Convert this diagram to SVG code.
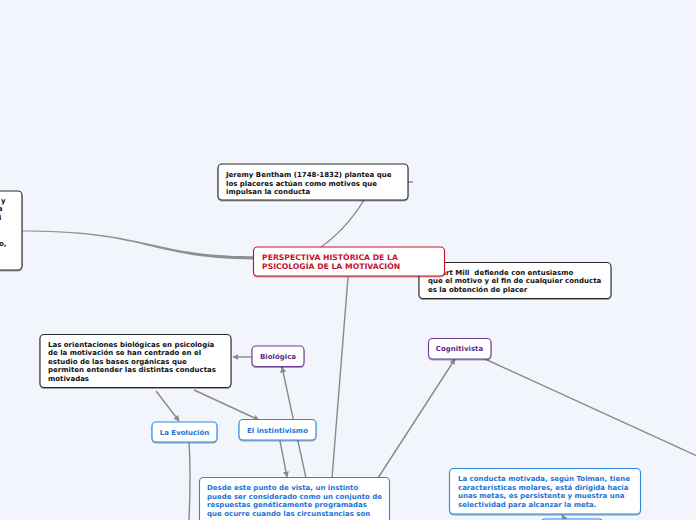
<svg xmlns="http://www.w3.org/2000/svg" width="696" height="520" viewBox="0 0 696 520">
<defs>
<filter id="sh" x="-10%" y="-20%" width="120%" height="150%">
<feDropShadow dx="0" dy="1" stdDeviation="0.7" flood-color="#000" flood-opacity="0.35"/>
</filter>
<marker id="ar" viewBox="0 0 10 10" refX="9" refY="5" markerWidth="6" markerHeight="6" markerUnits="userSpaceOnUse" orient="auto">
<path d="M0,0 L10,5 L0,10 Z" fill="#8a8a8a"/>
</marker>
<style>
.bg{fill:#f3f5fd}
.t{font-family:"DejaVu Sans",Verdana,sans-serif;font-weight:bold;font-size:7px}
.tt{font-size:7.7px}
.k{fill:#111}
.red{fill:#c8102e}
.pur{fill:#5e2d83}
.blu{fill:#1b74d8}
.bk{fill:#fff;stroke:#2a2a2a;stroke-width:1.1;filter:url(#sh)}
.br{fill:#fff;stroke:#c8102e;stroke-width:1.1;filter:url(#sh)}
.bp{fill:#fff;stroke:#6b3a92;stroke-width:1.1;filter:url(#sh)}
.bb{fill:#fff;stroke:#2f86e0;stroke-width:1.1;filter:url(#sh)}
.ln{fill:none;stroke:#8a8a8a;stroke-width:1.4}
.la{fill:none;stroke:#8a8a8a;stroke-width:1.4;marker-end:url(#ar)}
</style>
</defs>
<rect class="bg" x="0" y="0" width="696" height="520"/>

<g id="connectors">
<path d="M22,230.4 C150,230.4 150,256.3 258,256.3 L258,259.5 C150,259.5 150,231.6 22,231.6 Z" fill="#8f8f8f"/>
<path class="ln" d="M318,249 C336,237 350,223 364,200"/>
<path class="ln" d="M408,182 L413,182"/>
<path class="ln" d="M348,277 L332,478"/>
<path class="la" d="M306,478 L282,367"/>
<path class="la" d="M378,478 L455,359"/>
<path class="ln" d="M485,359 L697,456"/>
<path class="la" d="M252,357 L233,357"/>
<path class="la" d="M156,391 L179,421"/>
<path class="la" d="M194,390 L259,420"/>
<path class="la" d="M280,441 L287,477"/>
<path class="ln" d="M189,443 C191,470 190,495 189,521"/>
<path class="la" d="M565,520 L562,515"/>
</g>

<g id="node-left">
<rect class="bk" x="-10" y="191" width="32" height="79" rx="4"/>
<text class="t k" text-anchor="end"><tspan x="5.5" y="202.5">y</tspan><tspan x="2.5" y="211">a</tspan><tspan x="1.5" y="219.5">i</tspan><tspan x="6.5" y="246">o,</tspan></text>
</g>

<g id="node-bentham">
<rect class="bk" x="218" y="164" width="190" height="36" rx="4"/>
<text class="t k"><tspan x="226" y="177">Jeremy Bentham (1748-1832) plantea que</tspan><tspan x="226" y="185.5">los placeres actúan como motivos que</tspan><tspan x="226" y="194">impulsan la conducta</tspan></text>
</g>

<g id="node-mill">
<rect class="bk" x="419" y="262.5" width="192" height="36" rx="4"/>
<text class="t k"><tspan x="428" y="274.5">Stuart Mill&#160; defiende con entusiasmo</tspan><tspan x="428" y="283">que el motivo y el fin de cualquier conducta</tspan><tspan x="428" y="291.5">es la obtención de placer</tspan></text>
</g>

<g id="node-title">
<rect class="br" x="253.5" y="247" width="191" height="29" rx="4"/>
<text class="t tt red"><tspan x="262" y="260">PERSPECTIVA HISTÓRICA DE LA</tspan><tspan x="262" y="269">PSICOLOGÍA DE LA MOTIVACIÓN</tspan></text>
</g>

<g id="node-orientaciones">
<rect class="bk" x="40" y="334.5" width="191" height="53" rx="4"/>
<text class="t k"><tspan x="48" y="346.5">Las orientaciones biológicas en psicología</tspan><tspan x="48" y="355">de la motivación se han centrado en el</tspan><tspan x="48" y="363.5">estudio de las bases orgánicas que</tspan><tspan x="48" y="372">permiten entender las distintas conductas</tspan><tspan x="48" y="380.5">motivadas</tspan></text>
</g>

<g id="node-biologica">
<rect class="bp" x="252" y="346" width="52" height="20.5" rx="4"/>
<text class="t pur" x="278" y="359" text-anchor="middle">Biológica</text>
</g>

<g id="node-evolucion">
<rect class="bb" x="152" y="422" width="65" height="20" rx="4"/>
<text class="t blu" x="184.5" y="434.5" text-anchor="middle">La Evolución</text>
</g>

<g id="node-instintivismo">
<rect class="bb" x="239" y="419.5" width="77" height="20.5" rx="4"/>
<text class="t blu" x="277.5" y="432.5" text-anchor="middle">El instintivismo</text>
</g>

<g id="node-instinto">
<rect class="bb" x="199.5" y="477.5" width="190" height="60" rx="4"/>
<text class="t blu"><tspan x="207" y="490">Desde este punto de vista, un instinto</tspan><tspan x="207" y="498.5">puede ser considerado como un conjunto de</tspan><tspan x="207" y="507">respuestas genéticamente programadas</tspan><tspan x="207" y="515.5">que ocurre cuando las circunstancias son</tspan></text>
</g>

<g id="node-cognitivista">
<rect class="bp" x="428.5" y="338.5" width="62.5" height="20.5" rx="4"/>
<text class="t pur" x="459.5" y="351" text-anchor="middle">Cognitivista</text>
</g>

<g id="node-tolman">
<rect class="bb" x="449.5" y="468.5" width="191" height="45.5" rx="4"/>
<text class="t blu"><tspan x="458" y="481">La conducta motivada, según Tolman, tiene</tspan><tspan x="458" y="489.5">características molares, está dirigida hacia</tspan><tspan x="458" y="498">unas metas, es persistente y muestra una</tspan><tspan x="458" y="506.5">selectividad para alcanzar la meta.</tspan></text>
</g>

<g id="node-below-tolman">
<rect class="bb" x="541" y="519" width="62" height="20" rx="4"/>
</g>
</svg>
